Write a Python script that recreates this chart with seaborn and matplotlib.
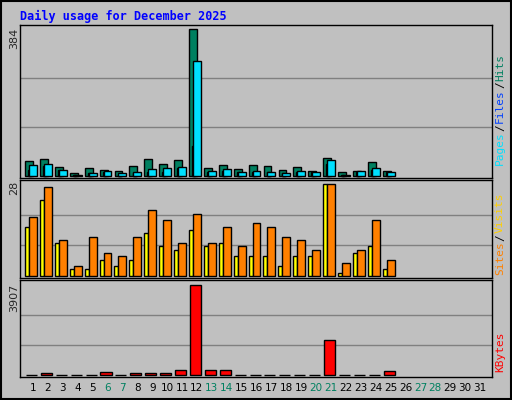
import matplotlib
matplotlib.use("Agg")
import matplotlib.pyplot as plt
import seaborn as sns
import pandas as pd
import numpy as np

sns.set_style("white")
plt.rcParams['font.family'] = ['DejaVu Sans']

N = np.nan
days = list(range(1, 32))
hits = [40,45,24,7,22,17,14,27,45,32,43,384,22,30,19,30,27,17,24,14,48,11,14,37,14,N,N,N,N,N,N]
files = [28,32,17,4,7,14,7,10,19,22,24,299,14,19,11,14,11,7,14,11,43,4,14,22,11,N,N,N,N,N,N]
pages = [15,25,15,4,7,10,4,7,11,11,22,79,11,14,10,10,11,7,10,10,32,4,10,17,11,N,N,N,N,N,N]
sites = [15,23,10,2,2,5,3,5,13,9,8,14,9,10,6,6,6,3,6,6,28,1,7,9,2,N,N,N,N,N,N]
visits = [18,27,11,3,12,7,6,12,20,17,10,19,10,15,9,16,15,12,11,8,28,4,8,17,5,N,N,N,N,N,N]
kbytes = [20,100,20,20,20,140,20,100,100,100,215,3907,215,215,20,20,20,20,20,20,1508,20,20,20,172,N,N,N,N,N,N]
weekend = [6,7,13,14,20,21,27,28]

BG = "#C0C0C0"
fig = plt.figure(figsize=(5.12, 4.0), dpi=100, facecolor=BG)

def panel(bottom_px, top_px):
    return fig.add_axes([20/512, 1-bottom_px/400, 472/512, (bottom_px-top_px)/400], facecolor=BG)

def bars(ax, vals, off, width, color):
    df = pd.DataFrame({"x": [d+off for d in days], "y": vals}).dropna()
    sns.barplot(data=df, x="x", y="y", native_scale=True, width=width, color=color,
                edgecolor="black", linewidth=1, saturation=1, ax=ax, zorder=3)

def style(ax, top, lo):
    ax.set_xlim(0.13, 31.8)
    ax.set_ylim(lo, top)
    ax.set_xlabel(""); ax.set_ylabel("")
    ax.set_yticks([])
    ax.set_xticks([])
    for s in ax.spines.values():
        s.set_color("black"); s.set_linewidth(1)

ax1 = panel(178, 25)
bars(ax1, hits, -0.26, 0.53, "#008060")
bars(ax1, pages, -0.22, 0.2, "#0040FF")
bars(ax1, files, 0.0, 0.53, "#00E0FF")
style(ax1, 394, -5)
for g in [128, 256]:
    ax1.axhline(g, color="#808080", lw=1, zorder=1)

ax2 = panel(278, 180)
bars(ax2, sites, -0.4, 0.27, "#FFFF00")
bars(ax2, visits, 0.0, 0.53, "#FF8000")
style(ax2, 29.2, -0.6)
for g in [28/3, 56/3]:
    ax2.axhline(g, color="#808080", lw=1, zorder=1)

ax3 = panel(377, 280)
bars(ax3, kbytes, -0.1, 0.74, "#FF0000")
style(ax3, 4124, -86)
for g in [3907/3, 2*3907/3]:
    ax3.axhline(g, color="#808080", lw=1, zorder=1)
ax3.set_xticks(days)
ax3.set_xticklabels([str(d) for d in days], fontsize=7.5)
for lab, d in zip(ax3.get_xticklabels(), days):
    lab.set_color("#008060" if d in weekend else "black")
ax3.tick_params(axis='x', length=0, pad=4)

fig.text(20/512, 1-16/400, "Daily usage for December 2025", color="#0000FF",
         fontsize=8.5, fontweight="bold", family="DejaVu Sans Mono", va="center")
fig.text(14/512, 1-38/400, "384", rotation=90, fontsize=8, ha="center", va="center")
fig.text(14/512, 1-188/400, "28", rotation=90, fontsize=8, ha="center", va="center")
fig.text(14/512, 1-298/400, "3907", rotation=90, fontsize=8, ha="center", va="center")

FS = 8
ADV = FS * 0.602 * 100 / 72  # px per char
def rlabel(y_bottom_px, parts):
    y = 1 - y_bottom_px/400
    for txt, col in parts:
        fig.text(500/512, y, txt, rotation=90, fontsize=FS, color=col,
                 ha="center", va="bottom", family="DejaVu Sans Mono")
        y += (len(txt) * ADV + 1) / 400

rlabel(165, [("Pages", "#00E0FF"), ("/", "black"), ("Files", "#0040FF"), ("/", "black"), ("Hits", "#008060")])
rlabel(275, [("Sites", "#FF8000"), ("/", "black"), ("Visits", "#FFD000")])
rlabel(372, [("KBytes", "#FF0000")])

fig.patches.append(plt.Rectangle((0.002, 0.002), 0.996, 0.996, transform=fig.transFigure,
                                 fill=False, edgecolor="black", lw=1.5))
fig.savefig("out.png", dpi=100, facecolor=BG)
